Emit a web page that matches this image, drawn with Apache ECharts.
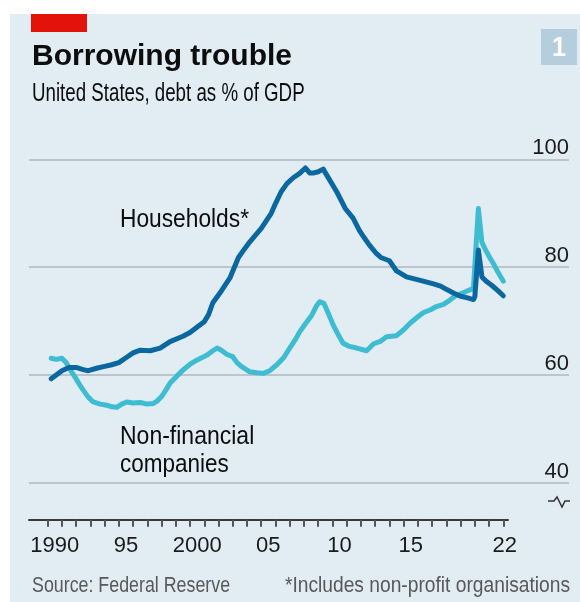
<!DOCTYPE html>
<html lang="en">
<head>
  <meta charset="UTF-8">
  <title>Borrowing trouble</title>
  <style>
    html, body { margin: 0; padding: 0; background: #fff; }
    #chart { width: 580px; height: 602px; }
  </style>
  <script src="https://cdn.jsdelivr.net/npm/echarts@6/dist/echarts.min.js"></script>
</head>
<body>
  <div id="chart"></div>
  <script>
    // households debt, % of GDP (year, value)
    var hhYears = [1990.25, 1990.6, 1991.0, 1991.5, 1992.0, 1992.5, 1992.85, 1993.5, 1994.0, 1994.5,
      1995.0, 1995.5, 1996.0, 1996.5, 1997.2, 1997.9, 1998.6, 1999.5, 2000.0, 2000.5,
      2001.0, 2001.3, 2001.6, 2002.2, 2002.8, 2003.4, 2003.8, 2004.2, 2005.0, 2005.7,
      2006.0, 2006.4, 2006.8, 2007.25, 2007.7, 2008.1, 2008.4, 2008.7, 2009.0, 2009.35,
      2009.8, 2010.3, 2010.9, 2011.45, 2011.9, 2012.2, 2012.6, 2013.1, 2013.4, 2014.0,
      2014.5, 2015.2, 2016.1, 2017.1, 2017.6, 2018.0, 2018.5, 2019.0, 2019.5, 2019.9,
      2020.0, 2020.25, 2020.5, 2020.8, 2021.2, 2021.6, 2022.0];
    var hhValues = [59.3, 60.0, 60.8, 61.4, 61.4, 61.0, 60.8, 61.3, 61.6, 61.9,
      62.3, 63.2, 64.1, 64.6, 64.5, 65.0, 66.2, 67.2, 67.9, 68.9,
      69.9, 71.2, 73.4, 75.6, 78.0, 81.8, 83.3, 84.7, 87.2, 90.0,
      91.8, 94.0, 95.5, 96.6, 97.4, 98.4, 97.5, 97.5, 97.7, 98.2,
      96.2, 94.0, 90.9, 89.1, 86.8, 85.6, 84.1, 82.5, 81.8, 81.2,
      79.3, 78.2, 77.6, 76.9, 76.5, 75.9, 75.2, 74.6, 74.3, 74.0,
      74.5, 83.2, 78.2, 77.4, 76.6, 75.7, 74.7];

    // non-financial companies debt, % of GDP
    var nfYears = [1990.25, 1990.6, 1991.0, 1991.3, 1991.6, 1991.9, 1992.2, 1992.5, 1992.85, 1993.2,
      1993.7, 1994.15, 1994.5, 1994.85, 1995.2, 1995.55, 1996.0, 1996.5, 1997.0, 1997.4,
      1997.7, 1998.0, 1998.3, 1998.6, 1999.0, 1999.5, 2000.0, 2000.5, 2001.2, 2001.6,
      2001.9, 2002.2, 2002.6, 2003.0, 2003.3, 2003.6, 2004.2, 2004.7, 2005.15, 2005.6,
      2006.1, 2006.6, 2007.0, 2007.4, 2007.7, 2008.1, 2008.55, 2008.9, 2009.1, 2009.4,
      2009.7, 2010.05, 2010.4, 2010.75, 2011.2, 2011.7, 2012.4, 2012.9, 2013.4, 2013.8,
      2014.5, 2015.0, 2015.45, 2016.0, 2016.4, 2016.9, 2017.3, 2017.8, 2018.25, 2018.6,
      2018.95, 2019.3, 2019.65, 2019.9, 2020.0, 2020.25, 2020.5, 2020.7, 2021.0, 2021.3,
      2021.6, 2022.0];
    var nfValues = [63.1, 62.9, 63.1, 62.3, 60.9, 59.7, 58.4, 57.2, 55.9, 55.0,
      54.6, 54.4, 54.1, 54.0, 54.6, 55.0, 54.8, 54.9, 54.6, 54.7,
      55.2, 56.0, 57.2, 58.5, 59.6, 60.9, 62.0, 62.8, 63.7, 64.5,
      65.0, 64.6, 63.8, 63.4, 62.3, 61.6, 60.6, 60.4, 60.3, 60.8,
      61.9, 63.3, 65.0, 66.6, 68.0, 69.5, 71.1, 72.9, 73.6, 73.3,
      71.5, 69.3, 67.5, 65.9, 65.3, 65.0, 64.5, 65.8, 66.3, 67.1,
      67.3, 68.4, 69.6, 70.8, 71.6, 72.1, 72.7, 73.1, 73.9, 74.6,
      75.0, 75.4, 75.8, 76.0, 76.3, 90.9, 84.6, 83.5, 82.0, 80.7,
      79.2, 77.4];

    var tickYears = [];
    for (var y = 1990; y <= 2022; y++) tickYears.push(y);
    var xLabelPos = [1990.5, 1995.5, 2000.5, 2005.5, 2010.5, 2015.5, 2022.1];
    var xLabels = ['1990', '95', '2000', '05', '10', '15', '22'];

    var sans = "'Liberation Sans', Arial, sans-serif";
    var panel = '#e2ecf3';

    function pairs(xs, ys) {
      return xs.map(function (x, i) { return [x, ys[i]]; });
    }

    // condensed look: plain sans squeezed horizontally
    function label(text, x, y, size, sx, opts) {
      opts = opts || {};
      return {
        type: 'text', x: x, y: y, scaleX: sx,
        style: {
          text: text, x: 0, y: 0,
          align: opts.align || 'left', verticalAlign: 'middle',
          fontSize: size, fontWeight: opts.weight || 'normal',
          fontFamily: sans, fill: opts.fill || '#0d0d0d'
        }
      };
    }

    var myChart = echarts.init(document.getElementById('chart'));
    var option = {
      animation: false,
      backgroundColor: panel,
      textStyle: { fontFamily: sans },
      grid: [
        { left: 29, right: 72, top: 159.4, bottom: 119.2 },  // data
        { left: 29, right: 11, top: 159.4, bottom: 119.2 }   // gridlines + labels
      ],
      xAxis: [{
        gridIndex: 0,
        type: 'value',
        min: 1988.69,
        max: 2022.33,
        offset: 37,
        axisLine: { show: true, lineStyle: { color: '#3a3a3a', width: 2 } },
        axisTick: { show: true, customValues: tickYears, length: 7, lineStyle: { color: '#555', width: 2 } },
        axisLabel: {
          customValues: xLabelPos,
          margin: 15,
          fontSize: 22,
          color: '#1a1a1a',
          formatter: function (v) {
            var i = xLabelPos.indexOf(v);
            return i >= 0 ? xLabels[i] : '';
          }
        },
        splitLine: { show: false }
      }, {
        gridIndex: 1, type: 'value', min: 0, max: 1, show: false
      }],
      yAxis: [{
        gridIndex: 0, type: 'value', min: 40, max: 100, show: false
      }, {
        gridIndex: 1,
        type: 'value',
        min: 40,
        max: 100,
        interval: 20,
        position: 'right',
        axisLine: { show: false },
        axisTick: { show: false },
        splitLine: { lineStyle: { color: '#bcc5cc', width: 2 } },
        axisLabel: {
          inside: true,
          margin: 0,
          verticalAlign: 'bottom',
          fontSize: 22,
          color: '#1a1a1a'
        }
      }],
      series: [{
        name: 'Non-financial companies',
        type: 'line',
        xAxisIndex: 0,
        yAxisIndex: 0,
        data: pairs(nfYears, nfValues),
        showSymbol: false,
        z: 3,
        lineStyle: { color: '#3ebcd2', width: 5, cap: 'round', join: 'round' }
      }, {
        name: 'Households*',
        type: 'line',
        xAxisIndex: 0,
        yAxisIndex: 0,
        data: pairs(hhYears, hhValues),
        showSymbol: false,
        z: 4,
        lineStyle: { color: '#0b67a0', width: 5, cap: 'round', join: 'round' }
      }],
      graphic: [
        { type: 'rect', shape: { x: 0, y: 0, width: 580, height: 14 }, style: { fill: '#fff' } },
        { type: 'rect', shape: { x: 0, y: 0, width: 10, height: 602 }, style: { fill: '#fff' } },
        { type: 'rect', shape: { x: 31, y: 14, width: 56, height: 18 }, style: { fill: '#e3120b' } },
        { type: 'rect', shape: { x: 541, y: 29, width: 36, height: 36 }, style: { fill: '#b5cede' } },
        label('1', 559, 48, 28, 0.9, { align: 'center', weight: 'bold', fill: '#fff' }),
        label('Borrowing trouble', 32, 57, 30, 1, { weight: 'bold' }),
        label('United States, debt as % of GDP', 32, 94, 26, 0.72),
        label('Households*', 120, 220, 25, 0.91),
        label('Non-financial', 120, 437, 25, 0.92),
        label('companies', 120, 465, 25, 0.9),
        label('Source: Federal Reserve', 32, 586, 22, 0.81, { fill: '#595959' }),
        label('*Includes non-profit organisations', 570, 586, 22, 0.873, { align: 'right', fill: '#595959' }),
        { type: 'polyline', shape: { points: [[548, 501], [554, 501], [557, 497], [562, 507], [565, 501], [570, 501]] },
          style: { stroke: '#333', lineWidth: 1.5, fill: null } }
      ]
    };
    myChart.setOption(option);
  </script>
</body>
</html>
